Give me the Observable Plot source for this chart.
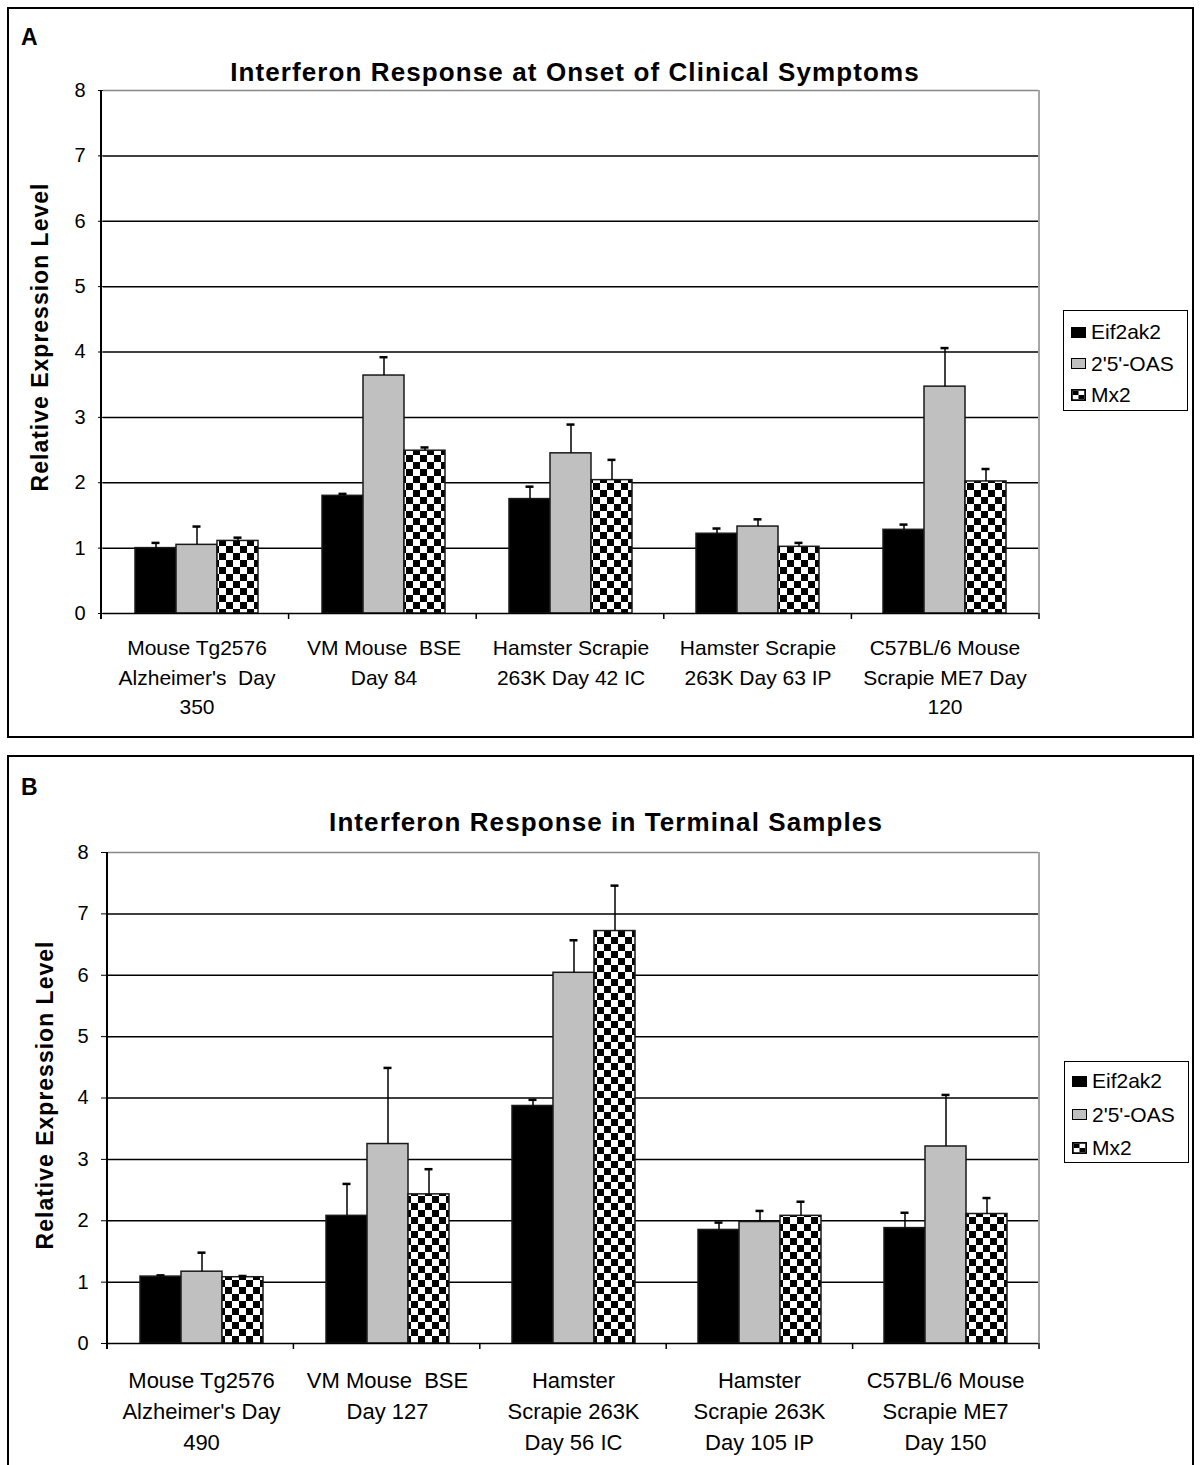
<!DOCTYPE html>
<html><head><meta charset="utf-8">
<script src="https://cdn.jsdelivr.net/npm/d3@7"></script>
<script src="https://cdn.jsdelivr.net/npm/@observablehq/plot@0.6"></script>
<style>
body{margin:0;background:#fff;}
#root{position:relative;width:1200px;height:1465px;overflow:hidden;font-family:"Liberation Sans",Arial,sans-serif;color:#000;background:#fff;}
svg text{white-space:pre;}
.plotwrap{position:absolute;left:0;}
.panel{position:absolute;border:2px solid #000;box-sizing:border-box;pointer-events:none;}
.letter{position:absolute;font-weight:bold;font-size:23px;line-height:1;}
.title{position:absolute;font-weight:bold;font-size:26px;letter-spacing:1.1px;white-space:nowrap;transform:translate(-50%,-50%);}
.ylabel{position:absolute;font-weight:bold;font-size:23px;letter-spacing:1px;white-space:nowrap;transform:translate(-50%,-50%) rotate(-90deg);}
.legend{position:absolute;border:1px solid #000;box-sizing:border-box;background:#fff;}
.legend .item{position:absolute;left:7px;display:flex;align-items:center;font-size:21px;white-space:nowrap;transform:translateY(-50%);}
.sw{width:15px;height:11px;box-sizing:border-box;border:1px solid #000;margin-right:5px;}
</style></head>
<body>
<div id="root"></div>
<script>
// ---------- data ----------
const seriesNames = ["Eif2ak2", "2'5'-OAS", "Mx2"];
const yTicks = [0, 1, 2, 3, 4, 5, 6, 7, 8];

const categoriesA = ["Mouse Tg2576\nAlzheimer's  Day\n350", "VM Mouse  BSE\nDay 84", "Hamster Scrapie\n263K Day 42 IC", "Hamster Scrapie\n263K Day 63 IP", "C57BL/6 Mouse\nScrapie ME7 Day\n120"];
const eif2ak2A = [1.00, 1.80, 1.75, 1.22, 1.28];
const oasA     = [1.05, 3.64, 2.45, 1.33, 3.47];
const mx2A     = [1.11, 2.49, 2.04, 1.02, 2.02];
const eif2ak2ErrA = [0.08, 0.03, 0.19, 0.08, 0.08];
const oasErrA     = [0.28, 0.28, 0.44, 0.11, 0.59];
const mx2ErrA     = [0.05, 0.05, 0.31, 0.06, 0.19];

const categoriesB = ["Mouse Tg2576\nAlzheimer's Day\n490", "VM Mouse  BSE\nDay 127", "Hamster\nScrapie 263K\nDay 56 IC", "Hamster\nScrapie 263K\nDay 105 IP", "C57BL/6 Mouse\nScrapie ME7\nDay 150"];
const eif2ak2B = [1.09, 2.08, 3.87, 1.85, 1.88];
const oasB     = [1.17, 3.25, 6.04, 1.98, 3.21];
const mx2B     = [1.08, 2.43, 6.72, 2.08, 2.11];
const eif2ak2ErrB = [0.02, 0.52, 0.10, 0.12, 0.25];
const oasErrB     = [0.31, 1.24, 0.53, 0.18, 0.84];
const mx2ErrB     = [0.02, 0.41, 0.74, 0.23, 0.26];

const titleA = "Interferon Response at Onset of Clinical Symptoms";
const titleB = "Interferon Response in Terminal Samples";
const yLabel = "Relative Expression Level";

// ---------- drawing ----------
const root = document.getElementById("root");
const FONT = "'Liberation Sans', Arial, sans-serif";

function makePanel(cfg) {
  const data = [];
  const vals = [cfg.eif, cfg.oas, cfg.mx2];
  const errs = [cfg.eifErr, cfg.oasErr, cfg.mx2Err];
  cfg.cats.forEach((c, i) => seriesNames.forEach((s, j) =>
    data.push({cat: c, series: s, value: vals[j][i], sd: errs[j][i]})));
  const fills = ["#000000", "#c0c0c0", `url(#${cfg.patId})`];
  const plot = Plot.plot({
    width: 1200, height: cfg.height,
    marginTop: cfg.mt, marginBottom: cfg.mb, marginLeft: cfg.ml, marginRight: cfg.mr,
    style: {background: "transparent", fontFamily: FONT, color: "#000", overflow: "visible"},
    fx: {domain: cfg.cats, padding: 0, label: null, axis: null},
    x: {domain: seriesNames, paddingInner: 0, paddingOuter: 0.75, axis: null},
    y: {domain: [0, 8], axis: null},
    color: {domain: seriesNames, range: fills},
    marks: [
      Plot.ruleY(yTicks.filter(t => t > 0 && t < 8), {stroke: "#000", strokeWidth: 1.5}),
      Plot.ruleY([8], {stroke: "#888", strokeWidth: 1.5}),
      Plot.barY(data, {fx: "cat", x: "series", y: "value", fill: "series", stroke: "#1a1a1a", strokeWidth: 1.5}),
      Plot.ruleX(data, {fx: "cat", x: "series", y1: "value", y2: d => d.value + d.sd, stroke: "#000", strokeWidth: 1.5}),
      Plot.tickY(data, {fx: "cat", x: "series", y: d => d.value + d.sd, insetLeft: 16.5, insetRight: 16.5, stroke: "#000", strokeWidth: 2.5}),
      Plot.ruleY([0], {stroke: "#000", strokeWidth: 1.5}),
      Plot.axisY({ticks: yTicks, tickSize: cfg.yTickSize, tickPadding: 13, fontSize: 20, label: null, tickFormat: d => String(d)}),
      Plot.axisFx({anchor: "bottom", tickSize: 0, tickPadding: cfg.tickPad, fontSize: cfg.fontSize, lineHeight: cfg.lh, label: null})
    ]
  });
  const svg = d3.select(plot);
  const defs = svg.insert("defs", ":first-child");
  const pat = defs.append("pattern").attr("id", cfg.patId).attr("width", 14).attr("height", 14).attr("patternUnits", "userSpaceOnUse");
  pat.append("rect").attr("width", 14).attr("height", 14).attr("fill", "#fff");
  pat.append("rect").attr("width", 7).attr("height", 7).attr("fill", "#000");
  pat.append("rect").attr("x", 7).attr("y", 7).attr("width", 7).attr("height", 7).attr("fill", "#000");

  // axis lines and category boundary ticks, computed from the scales
  const fx = plot.scale("fx"), y = plot.scale("y");
  const r0 = fx.range[0], r1 = fx.range[1];
  const n = cfg.cats.length, step = (r1 - r0) / n;
  const y0 = y.apply(0), y8 = y.apply(8);
  const g = svg.append("g").attr("stroke-width", 1.5);
  g.append("line").attr("x1", r1).attr("x2", r1).attr("y1", y8).attr("y2", y0).attr("stroke", "#888");
  g.append("line").attr("x1", r0).attr("x2", r0).attr("y1", y8).attr("y2", y0 + 6).attr("stroke", "#000").attr("stroke-width", 2);
  for (let i = 0; i <= n; i++) {
    const xx = r0 + i * step;
    g.append("line").attr("x1", xx).attr("x2", xx).attr("y1", y0).attr("y2", y0 + 6).attr("stroke", "#000");
  }

  const wrap = document.createElement("div");
  wrap.className = "plotwrap";
  wrap.style.top = cfg.top + "px";
  wrap.appendChild(plot);
  root.appendChild(wrap);

  // panel frame, letter, title, y label
  const frame = document.createElement("div");
  frame.className = "panel";
  Object.assign(frame.style, {left: cfg.box[0] + "px", top: cfg.box[1] + "px", width: cfg.box[2] + "px", height: cfg.box[3] + "px"});
  root.appendChild(frame);

  const letter = document.createElement("div");
  letter.className = "letter"; letter.textContent = cfg.letter;
  Object.assign(letter.style, {left: cfg.letterPos[0] + "px", top: cfg.letterPos[1] + "px"});
  root.appendChild(letter);

  const title = document.createElement("div");
  title.className = "title"; title.textContent = cfg.title;
  Object.assign(title.style, {left: cfg.titlePos[0] + "px", top: cfg.titlePos[1] + "px"});
  root.appendChild(title);

  const yl = document.createElement("div");
  yl.className = "ylabel"; yl.textContent = yLabel;
  Object.assign(yl.style, {left: cfg.ylabPos[0] + "px", top: cfg.ylabPos[1] + "px"});
  root.appendChild(yl);

  // legend
  const lg = document.createElement("div");
  lg.className = "legend";
  Object.assign(lg.style, {left: cfg.legend[0] + "px", top: cfg.legend[1] + "px", width: cfg.legend[2] + "px", height: cfg.legend[3] + "px"});
  seriesNames.forEach((s, j) => {
    const it = document.createElement("div");
    it.className = "item";
    it.style.top = (cfg.legendRow0 + j * cfg.legendStep) + "px";
    let sw;
    if (j === 2) {
      sw = document.createElementNS("http://www.w3.org/2000/svg", "svg");
      sw.setAttribute("width", 15); sw.setAttribute("height", 12);
      sw.style.marginRight = "5px";
      sw.innerHTML = '<rect x="0.5" y="0.5" width="14" height="11" fill="#fff" stroke="#000"/><rect x="2" y="2" width="5.5" height="4" fill="#000"/><rect x="7.5" y="6" width="5.5" height="4" fill="#000"/><rect x="1" y="1" width="13" height="10" fill="none" stroke="#000" stroke-width="1.5"/>';
    } else {
      sw = document.createElement("div");
      sw.className = "sw";
      sw.style.background = j === 0 ? "#000" : "#c0c0c0";
    }
    it.appendChild(sw);
    const tx = document.createElement("span");
    tx.textContent = s;
    it.appendChild(tx);
    lg.appendChild(it);
  });
  root.appendChild(lg);
}

makePanel({
  cats: categoriesA, eif: eif2ak2A, oas: oasA, mx2: mx2A,
  eifErr: eif2ak2ErrA, oasErr: oasErrA, mx2Err: mx2ErrA,
  patId: "chkA", top: 0, height: 738, mt: 90, mb: 125, ml: 101, mr: 161,
  fontSize: 21, tickPad: 21, lh: 1.4, yTickSize: 5,
  box: [7, 7, 1187, 731], letter: "A", letterPos: [21, 26],
  title: titleA, titlePos: [575, 72], ylabPos: [40, 337],
  legend: [1063, 310, 125, 101], legendRow0: 21, legendStep: 31.5
});

makePanel({
  cats: categoriesB, eif: eif2ak2B, oas: oasB, mx2: mx2B,
  eifErr: eif2ak2ErrB, oasErr: oasErrB, mx2Err: mx2ErrB,
  patId: "chkB", top: 755, height: 710, mt: 97, mb: 122, ml: 107, mr: 161,
  fontSize: 22, tickPad: 22, lh: 1.41, yTickSize: 7,
  box: [7, 755, 1187, 712], letter: "B", letterPos: [21, 776],
  title: titleB, titlePos: [606, 822], ylabPos: [45, 1095],
  legend: [1064, 1061, 125, 102], legendRow0: 19, legendStep: 33.5
});
</script>
</body></html>
